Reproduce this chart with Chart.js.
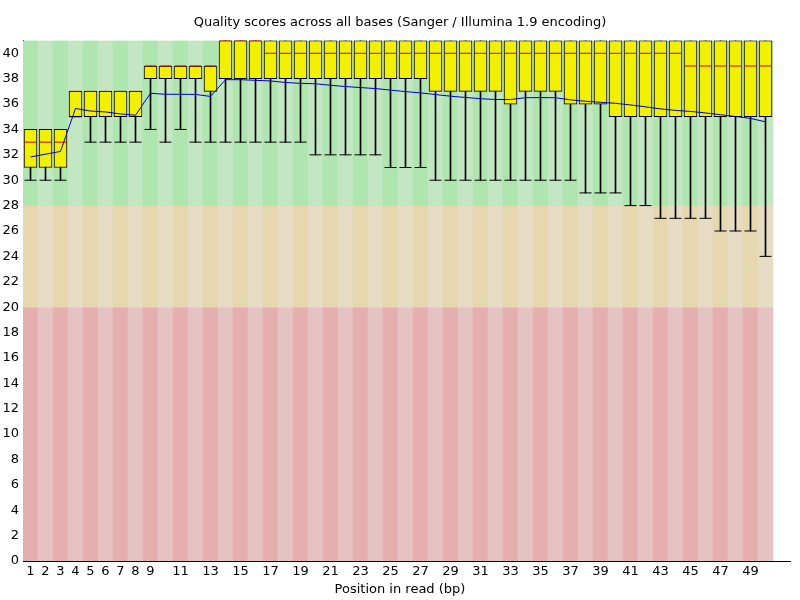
<!DOCTYPE html>
<html>
<head>
<meta charset="utf-8">
<title>Per base sequence quality</title>
<script src="https://cdn.jsdelivr.net/npm/chart.js@4.4.1/dist/chart.umd.min.js"></script>
<style>
  html, body { margin: 0; padding: 0; background: #fff; }
  #wrap { width: 800px; height: 600px; }
</style>
</head>
<body>
<div id="wrap"><canvas id="qualityChart" width="800" height="600"></canvas></div>
<script>
// Per-position values
const positions = [1,2,3,4,5,6,7,8,9,10,11,12,13,14,15,16,17,18,19,20,21,22,23,24,25,
                   26,27,28,29,30,31,32,33,34,35,36,37,38,39,40,41,42,43,44,45,46,47,48,49,50];
const lowerWhisker = [30,30,30,35,33,33,33,33,34,33,34,33,33,33,33,33,33,33,33,32,32,32,32,32,31,
                      31,31,30,30,30,30,30,30,30,30,30,30,29,29,29,28,28,27,27,27,27,26,26,26,24];
const lowerQuartile = [31,31,31,35,35,35,35,35,38,38,38,38,37,38,38,38,38,38,38,38,38,38,38,38,38,
                       38,38,37,37,37,37,37,36,37,37,37,36,36,36,35,35,35,35,35,35,35,35,35,35,35];
const medians = [33,33,33,37,37,37,37,37,39,39,39,39,39,41,41,41,40,40,40,40,40,40,40,40,40,
                 40,40,40,40,40,40,40,40,40,40,40,40,40,40,40,40,40,40,40,39,39,39,39,39,39];
const upperQuartile = [34,34,34,37,37,37,37,37,39,39,39,39,39,41,41,41,41,41,41,41,41,41,41,41,41,
                       41,41,41,41,41,41,41,41,41,41,41,41,41,41,41,41,41,41,41,41,41,41,41,41,41];
const upperWhisker = upperQuartile.slice();
const means = [31.83,32.05,32.27,35.65,35.45,35.38,35.22,35.12,36.85,36.77,36.77,36.76,36.6,37.92,37.92,
               37.87,37.82,37.7,37.63,37.6,37.48,37.38,37.3,37.22,37.1,36.98,36.88,36.75,36.62,36.52,
               36.42,36.36,36.36,36.5,36.51,36.5,36.33,36.22,36.14,36.06,35.93,35.78,35.62,35.5,35.42,
               35.3,35.16,35.02,34.87,34.6];

const xTickValues = [1,2,3,4,5,6,7,8,9,11,13,15,17,19,21,23,25,27,29,31,33,35,37,39,41,43,45,47,49];
const yTickValues = [0,2,4,6,8,10,12,14,16,18,20,22,24,26,28,30,32,34,36,38,40];

// Background zones: [low, high], dark / light stripe colours
const zoneRanges = [[28, 41], [20, 28], [0, 20]];
const zoneColours = [
  ['rgb(175,230,175)', 'rgb(195,230,195)'],
  ['rgb(230,215,175)', 'rgb(230,220,195)'],
  ['rgb(230,175,175)', 'rgb(230,195,195)']
];

const FONT = { family: 'DejaVu Sans', size: 13, weight: 'normal' };

const zoneDatasets = zoneRanges.map((r, z) => ({
  type: 'bar',
  data: positions.map(p => ({ x: p, y: [r[0], r[1]] })),
  backgroundColor: positions.map(p => zoneColours[z][p % 2 === 1 ? 0 : 1]),
  borderWidth: 0,
  barPercentage: 1,
  categoryPercentage: 1,
  grouped: false,
  order: 20
}));

const datasets = zoneDatasets.concat([
  {
    // whisker stems
    type: 'bar',
    data: positions.map((p, i) => ({ x: p, y: [lowerWhisker[i], upperWhisker[i]] })),
    backgroundColor: '#000',
    borderWidth: 0,
    barThickness: 1,
    grouped: false,
    order: 9
  },
  {
    // whisker caps
    type: 'line',
    showLine: false,
    data: positions.map((p, i) => ({ x: p, y: lowerWhisker[i] })),
    pointStyle: 'line',
    pointRadius: 6,
    pointBorderColor: '#000',
    pointBorderWidth: 1,
    order: 8
  },
  {
    // boxes
    type: 'bar',
    data: positions.map((p, i) => ({ x: p, y: [lowerQuartile[i], upperQuartile[i]] })),
    backgroundColor: 'rgb(240,240,0)',
    borderColor: '#000',
    borderWidth: 1,
    borderSkipped: false,
    barThickness: 13,
    grouped: false,
    order: 7
  },
  {
    // medians
    type: 'line',
    showLine: false,
    data: positions.map((p, i) => ({ x: p, y: medians[i] })),
    pointStyle: 'line',
    pointRadius: 5.5,
    pointBorderColor: 'rgb(200,0,0)',
    pointBorderWidth: 1,
    order: 6
  },
  {
    // mean line
    type: 'line',
    data: positions.map((p, i) => ({ x: p, y: means[i] })),
    borderColor: 'rgb(0,0,200)',
    borderWidth: 1,
    pointRadius: 0,
    tension: 0,
    fill: false,
    order: 5
  }
]);

const ctx = document.getElementById('qualityChart').getContext('2d');
new Chart(ctx, {
  type: 'bar',
  data: { datasets: datasets },
  options: {
    responsive: false,
    devicePixelRatio: 1,
    animation: false,
    events: [],
    layout: { padding: 0 },
    plugins: {
      legend: { display: false },
      tooltip: { enabled: false },
      title: {
        display: true,
        text: 'Quality scores across all bases (Sanger / Illumina 1.9 encoding)',
        color: '#000',
        font: FONT,
        padding: { top: 15, bottom: 10 }
      },
      subtitle: {
        display: true,
        position: 'bottom',
        text: 'Position in read (bp)',
        color: '#000',
        font: FONT,
        padding: { top: 3, bottom: 3 }
      }
    },
    scales: {
      x: {
        type: 'linear',
        offset: false,
        min: 0.5,
        max: 0.5 + 767 / 15,
        grid: { display: false, drawTicks: false, offset: false },
        border: { display: true, color: '#000', width: 1 },
        ticks: {
          color: '#000',
          font: FONT,
          padding: 3,
          autoSkip: false,
          maxRotation: 0,
          callback: v => String(v)
        },
        afterBuildTicks: s => { s.ticks = xTickValues.map(v => ({ value: v })); },
        afterFit: s => { s.height = 17.4; }
      },
      y: {
        type: 'linear',
        min: 0,
        max: 41,
        grid: { display: false, drawTicks: false },
        border: { display: true, color: '#000', width: 1 },
        ticks: { color: '#000', font: FONT, padding: 4 },
        afterBuildTicks: s => { s.ticks = yTickValues.map(v => ({ value: v })); },
        afterFit: s => { s.width = 23; }
      },
      pad: {
        type: 'linear',
        position: 'right',
        display: true,
        grid: { display: false, drawTicks: false },
        border: { display: false },
        ticks: { display: false },
        afterFit: s => { s.width = 10; }
      }
    }
  }
});
</script>
</body>
</html>
